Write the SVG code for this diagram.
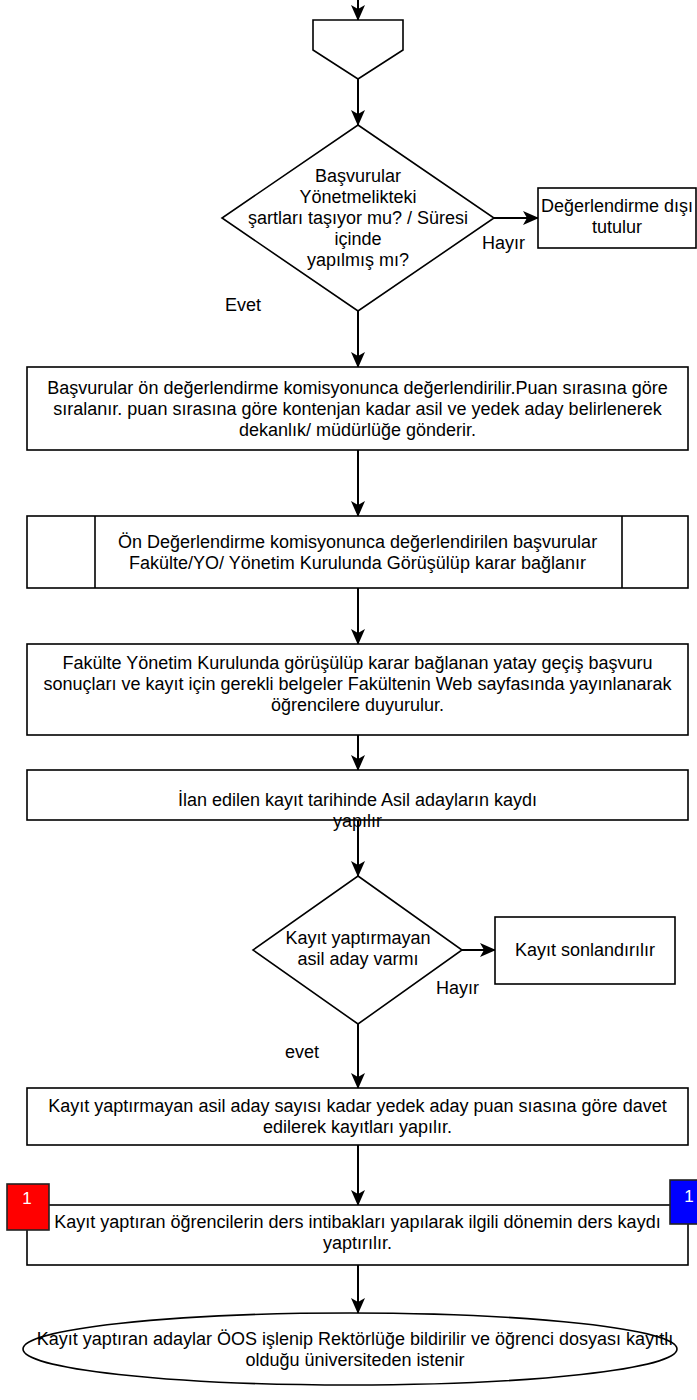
<svg xmlns="http://www.w3.org/2000/svg" width="697" height="1400" viewBox="0 0 697 1400">
<defs>
<marker id="arr" markerUnits="userSpaceOnUse" markerWidth="16" markerHeight="14" viewBox="0 0 16 14" refX="15" refY="7" orient="auto">
<path d="M0,0 L16,7 L0,14 L4,7 Z" fill="#000"/>
</marker>
<style>
.s{fill:#fff;stroke:#000;stroke-width:1.6}
.c{fill:none;stroke:#000;stroke-width:2;marker-end:url(#arr)}
text{font-family:"Liberation Sans",Arial,Helvetica,sans-serif;font-size:18px;fill:#000}
.m{text-anchor:middle}
.w{fill:#fff;font-size:17px}
</style>
</defs>
<rect width="697" height="1400" fill="#fff"/>
<g id="connectors">
<path class="c" d="M358,0 L358,20"/>
<path class="c" d="M358,79 L358,125"/>
<path class="c" d="M494,218 L538,218"/>
<path class="c" d="M358,311 L358,367"/>
<path class="c" d="M358,450 L358,516"/>
<path class="c" d="M358,588 L358,644"/>
<path class="c" d="M358,735 L358,770"/>
<path class="c" d="M358,820 L358,876"/>
<path class="c" d="M462,950 L495,950"/>
<path class="c" d="M358,1024 L358,1088"/>
<path class="c" d="M358,1145 L358,1205"/>
<path class="c" d="M358,1265 L358,1313"/>
<text x="482" y="249">Hayır</text>
<text x="225" y="311">Evet</text>
<text x="436" y="994">Hayır</text>
<text x="285" y="1058">evet</text>
</g>
<g id="offpage">
<path class="s" d="M313,20 L403,20 L403,50 L358,79 L313,50 Z"/>
</g>
<g id="decision1">
<path class="s" d="M358,125 L494,218 L358,311 L222,218 Z"/>
<text class="m" x="358" y="182">Başvurular</text>
<text class="m" x="358" y="203">Yönetmelikteki</text>
<text class="m" x="358" y="224">şartları taşıyor mu? / Süresi</text>
<text class="m" x="358" y="245">içinde</text>
<text class="m" x="358" y="266">yapılmış mı?</text>
</g>
<g id="reject">
<rect class="s" x="538" y="188" width="158" height="60"/>
<text class="m" x="617" y="212">Değerlendirme dışı</text>
<text class="m" x="617" y="233">tutulur</text>
</g>
<g id="step1">
<rect class="s" x="27" y="367" width="661" height="83"/>
<text class="m" x="357.5" y="394">Başvurular ön değerlendirme komisyonunca değerlendirilir.Puan sırasına göre</text>
<text class="m" x="357.5" y="415">sıralanır. puan sırasına göre kontenjan kadar asil ve yedek aday belirlenerek</text>
<text class="m" x="357.5" y="436">dekanlık/ müdürlüğe gönderir.</text>
</g>
<g id="step2">
<rect class="s" x="27" y="516" width="661" height="72"/>
<line class="s" x1="95" y1="516" x2="95" y2="588"/>
<line class="s" x1="622" y1="516" x2="622" y2="588"/>
<text class="m" x="357.5" y="548">Ön Değerlendirme komisyonunca değerlendirilen başvurular</text>
<text class="m" x="357.5" y="569">Fakülte/YO/ Yönetim Kurulunda Görüşülüp karar bağlanır</text>
</g>
<g id="step3">
<rect class="s" x="27" y="644" width="661" height="91"/>
<text class="m" x="357.5" y="669">Fakülte Yönetim Kurulunda görüşülüp karar bağlanan yatay geçiş başvuru</text>
<text class="m" x="357.5" y="690">sonuçları ve kayıt için gerekli belgeler Fakültenin Web sayfasında yayınlanarak</text>
<text class="m" x="357.5" y="711">öğrencilere duyurulur.</text>
</g>
<g id="step4">
<rect class="s" x="27" y="770" width="661" height="50"/>
<text class="m" x="357.5" y="806">İlan edilen kayıt tarihinde Asil adayların kaydı</text>
<text class="m" x="357.5" y="827">yapılır</text>
</g>
<g id="decision2">
<path class="s" d="M358,876 L462,950 L358,1024 L253,950 Z"/>
<text class="m" x="358" y="944">Kayıt yaptırmayan</text>
<text class="m" x="358" y="965">asil aday varmı</text>
</g>
<g id="end1">
<rect class="s" x="495" y="917" width="180" height="67"/>
<text class="m" x="585" y="956">Kayıt sonlandırılır</text>
</g>
<g id="step5">
<rect class="s" x="27" y="1088" width="661" height="57"/>
<text class="m" x="357.5" y="1112">Kayıt yaptırmayan asil aday sayısı kadar yedek aday puan sıasına göre davet</text>
<text class="m" x="357.5" y="1133">edilerek kayıtları yapılır.</text>
</g>
<g id="step6">
<rect class="s" x="27" y="1205" width="661" height="60"/>
<text class="m" x="357.5" y="1228">Kayıt yaptıran öğrencilerin ders intibakları yapılarak ilgili dönemin ders kaydı</text>
<text class="m" x="357.5" y="1249">yaptırılır.</text>
</g>
<g id="badge-red">
<rect x="7" y="1184" width="42" height="46" fill="#ff0000" stroke="#222" stroke-width="1.6"/>
<text class="m w" x="27" y="1204">1</text>
</g>
<g id="badge-blue">
<rect x="670" y="1180" width="42" height="44" fill="#0000ff" stroke="#222" stroke-width="1.6"/>
<text class="m w" x="689" y="1202">1</text>
</g>
<g id="end2">
<ellipse class="s" cx="350" cy="1349" rx="327" ry="36"/>
<text class="m" x="355" y="1345">Kayıt yaptıran adaylar ÖOS işlenip Rektörlüğe bildirilir ve öğrenci dosyası kayıtlı</text>
<text class="m" x="355" y="1366">olduğu üniversiteden istenir</text>
</g>
</svg>
